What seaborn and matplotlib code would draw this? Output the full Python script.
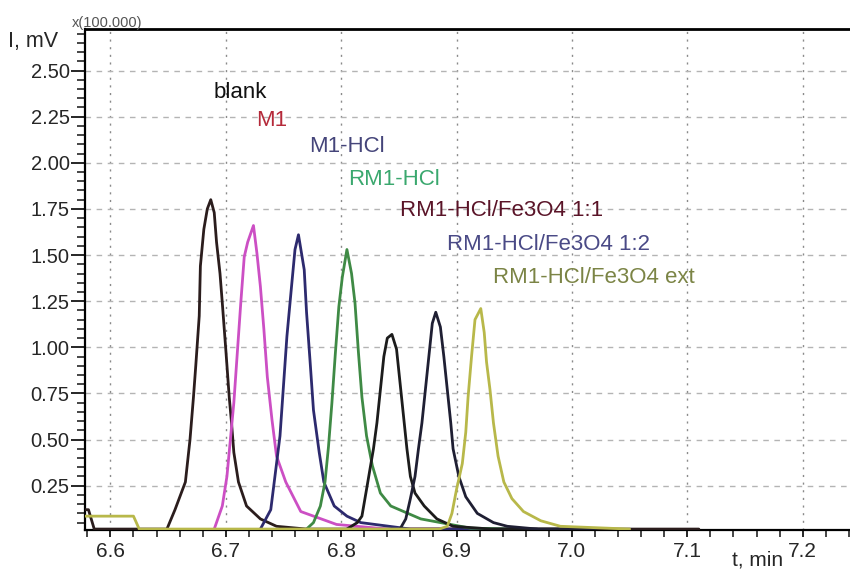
import numpy as np
import pandas as pd
import matplotlib
matplotlib.use("Agg")
import matplotlib.pyplot as plt
import seaborn as sns
from matplotlib.ticker import MultipleLocator

# retention time (min) and signal (mV x 100 000)
blank_t = [6.578, 6.581, 6.586, 6.649, 6.656, 6.665, 6.669, 6.672, 6.674, 6.677, 6.678,
           6.681, 6.684, 6.687, 6.690, 6.692, 6.695, 6.697, 6.700, 6.703, 6.705, 6.707,
           6.711, 6.718, 6.730, 6.744, 6.770, 7.110]
blank_i = [0.12, 0.12, 0.015, 0.015, 0.12, 0.27, 0.50, 0.73, 0.90, 1.17, 1.44,
           1.64, 1.75, 1.80, 1.73, 1.57, 1.40, 1.24, 0.99, 0.73, 0.59, 0.43,
           0.27, 0.14, 0.07, 0.03, 0.015, 0.015]

m1_t = [6.690, 6.697, 6.701, 6.704, 6.707, 6.710, 6.713, 6.716, 6.719, 6.724, 6.727,
        6.730, 6.733, 6.736, 6.740, 6.744, 6.752, 6.765, 6.796, 6.840, 6.960]
m1_i = [0.015, 0.14, 0.30, 0.50, 0.70, 0.97, 1.24, 1.49, 1.57, 1.66, 1.51,
        1.33, 1.10, 0.84, 0.61, 0.41, 0.27, 0.11, 0.04, 0.015, 0.015]

m1hcl_t = [6.730, 6.739, 6.743, 6.747, 6.750, 6.753, 6.757, 6.760, 6.763, 6.768, 6.770,
           6.773, 6.776, 6.781, 6.785, 6.794, 6.805, 6.817, 6.860, 6.970]
m1hcl_i = [0.015, 0.12, 0.32, 0.52, 0.79, 1.06, 1.33, 1.53, 1.61, 1.42, 1.19,
           0.93, 0.66, 0.43, 0.27, 0.14, 0.085, 0.05, 0.015, 0.015]

rm1_t = [6.770, 6.776, 6.782, 6.786, 6.789, 6.792, 6.795, 6.798, 6.801, 6.805, 6.809,
         6.812, 6.815, 6.818, 6.822, 6.827, 6.834, 6.843, 6.869, 6.912, 6.950]
rm1_i = [0.015, 0.05, 0.14, 0.27, 0.46, 0.70, 0.97, 1.22, 1.38, 1.53, 1.40,
         1.24, 0.97, 0.73, 0.52, 0.36, 0.21, 0.14, 0.07, 0.02, 0.015]

fe11_t = [6.805, 6.814, 6.818, 6.822, 6.825, 6.828, 6.831, 6.834, 6.837, 6.840, 6.844,
          6.848, 6.851, 6.854, 6.857, 6.860, 6.864, 6.872, 6.883, 6.897, 6.930, 7.020]
fe11_i = [0.015, 0.05, 0.085, 0.23, 0.34, 0.45, 0.59, 0.77, 0.95, 1.05, 1.07,
          0.99, 0.81, 0.63, 0.45, 0.30, 0.21, 0.14, 0.07, 0.03, 0.015, 0.015]

fe12_t = [6.851, 6.856, 6.860, 6.864, 6.867, 6.870, 6.873, 6.876, 6.879, 6.882, 6.886,
          6.889, 6.892, 6.895, 6.897, 6.902, 6.908, 6.918, 6.932, 6.944, 6.970, 7.020]
fe12_i = [0.015, 0.07, 0.18, 0.30, 0.45, 0.59, 0.77, 0.95, 1.13, 1.19, 1.11,
          0.95, 0.77, 0.59, 0.45, 0.30, 0.19, 0.10, 0.05, 0.03, 0.015, 0.015]

ext_t = [6.578, 6.620, 6.625, 6.885, 6.892, 6.896, 6.900, 6.905, 6.908, 6.910, 6.913,
         6.916, 6.921, 6.924, 6.926, 6.929, 6.932, 6.936, 6.941, 6.948, 6.958, 6.973,
         6.990, 7.050]
ext_i = [0.085, 0.085, 0.015, 0.015, 0.03, 0.10, 0.23, 0.37, 0.54, 0.73, 0.95,
         1.15, 1.21, 1.08, 0.92, 0.77, 0.59, 0.41, 0.27, 0.18, 0.11, 0.06,
         0.03, 0.015]

names = ["blank", "M1", "M1-HCl", "RM1-HCl", "RM1-HCl/Fe3O4 1:1",
         "RM1-HCl/Fe3O4 1:2", "RM1-HCl/Fe3O4 ext"]
curve_colors = ["#2b1d1d", "#cc4fc4", "#2d2a6e", "#3f8a45", "#1c1c1c", "#1f1f33", "#b8b84a"]
label_colors = ["#111111", "#b52a3a", "#45457a", "#3aa86e", "#5a1428", "#4a4a86", "#7b8445"]
label_pos = [(6.689, 2.35), (6.726, 2.197), (6.772, 2.061), (6.806, 1.881),
             (6.851, 1.709), (6.892, 1.529), (6.932, 1.349)]

series = [(blank_t, blank_i), (m1_t, m1_i), (m1hcl_t, m1hcl_i), (rm1_t, rm1_i),
          (fe11_t, fe11_i), (fe12_t, fe12_i), (ext_t, ext_i)]
frames = []
for name, (t, i) in zip(names, series):
    frames.append(pd.DataFrame({"t": t, "I": i, "sample": name}))
df = pd.concat(frames, ignore_index=True)

sns.set_style("white")
plt.rcParams["font.family"] = ["Liberation Sans", "DejaVu Sans"]

fig = plt.figure(figsize=(8.5, 5.7), dpi=100)
ax = fig.add_axes([0.1, 0.0702, 0.9, 0.8789])

# grid first so the traces sit on top
for v in np.arange(6.6, 7.25, 0.1):
    ax.axvline(v, color="#8a8a8a", lw=1.0, ls=(0, (1.5, 4)), zorder=0)
for h in np.arange(0.25, 2.6, 0.25):
    ax.axhline(h, color="#b4b4b4", lw=1.0, ls=(0, (4, 4)), zorder=0)

sns.lineplot(data=df, x="t", y="I", hue="sample", hue_order=names,
             palette=dict(zip(names, curve_colors)), sort=False, estimator=None,
             lw=2.0, legend=False, ax=ax, zorder=3)

for name, col, (x, y) in zip(names, label_colors, label_pos):
    ax.text(x, y, name, color=col, fontsize=16, ha="left", va="baseline")

ax.set_xlim(6.578, 7.241)
ax.set_ylim(0.01, 2.725)
ax.xaxis.set_minor_locator(MultipleLocator(0.02))
ax.yaxis.set_minor_locator(MultipleLocator(0.05))
ax.set_xticks(np.arange(6.6, 7.25, 0.1))
ax.set_xticklabels([f"{v:.1f}" for v in np.arange(6.6, 7.25, 0.1)])
ax.set_yticks(np.arange(0.25, 2.6, 0.25))
ax.set_yticklabels([f"{v:.2f}" for v in np.arange(0.25, 2.6, 0.25)])

ax.tick_params(axis="y", which="major", direction="out", length=10, width=1.4,
               labelsize=14.5, pad=1, left=True)
ax.tick_params(axis="y", which="minor", direction="out", length=6, width=1.2, left=True)
ax.tick_params(axis="x", which="major", direction="out", length=5, width=1.4,
               labelsize=15, pad=4, bottom=True)
ax.tick_params(axis="x", which="minor", direction="out", length=5, width=1.2, bottom=True)

ax.set_xlabel("")
ax.set_ylabel("")
for side in ["left", "bottom", "top"]:
    ax.spines[side].set_visible(True)
    ax.spines[side].set_color("black")
ax.spines["left"].set_linewidth(1.6)
ax.spines["bottom"].set_linewidth(1.6)
ax.spines["top"].set_linewidth(2.0)
ax.spines["right"].set_visible(False)

fig.text(8 / 850, 1 - 41 / 570, "I, mV", fontsize=15.5, ha="left", va="center")
fig.text(758 / 850, 1 - 560 / 570, "t, min", fontsize=15, ha="center", va="center")
fig.text(72 / 850, 1 - 27 / 570, "x(100.000)", fontsize=10.5, color="#555555",
         ha="left", va="baseline")

fig.savefig("out.png", dpi=100)
